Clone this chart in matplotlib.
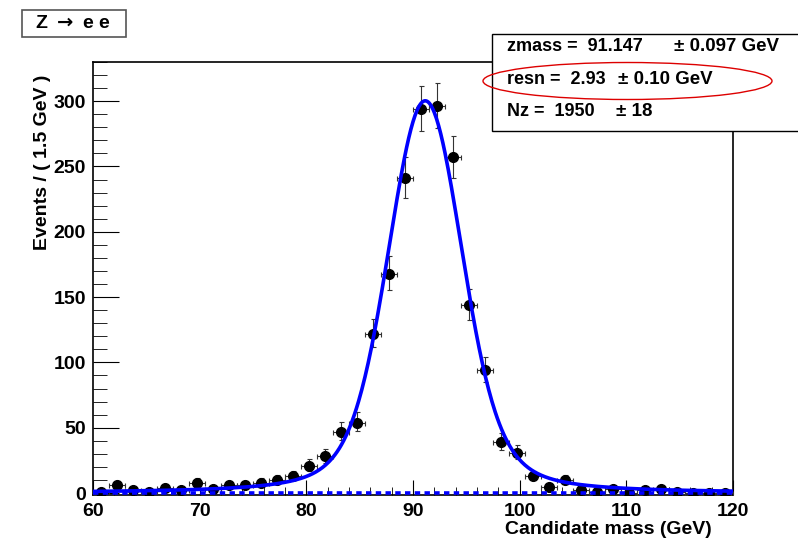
import numpy as np
import matplotlib
matplotlib.use('Agg')
import matplotlib.pyplot as plt
from matplotlib.patches import Rectangle, Ellipse

plt.rcParams['font.family'] = ['Liberation Sans', 'DejaVu Sans']
plt.rcParams['font.weight'] = 'bold'
plt.rcParams['mathtext.default'] = 'bf'

# binned data: 40 bins of 1.5 GeV between 60 and 120
bin_width = 1.5
bin_centers = 60.75 + bin_width * np.arange(40)
counts = np.array([1, 6, 2, 1, 4, 2, 8, 3, 6, 6,
                   8, 10, 13, 21, 28, 47, 54, 122, 168, 241,
                   294, 296, 257, 144, 94, 39, 31, 13, 5, 10,
                   2, 1, 3, 0, 2, 3, 1, 0, 0, 0])

# fit results shown in the box
zmass, zmass_err = 91.147, 0.097
resn, resn_err = 2.93, 0.10
nz, nz_err = 1950, 18
z_width = 2.4952  # PDG Z width (Breit-Wigner part of the Voigtian)

# approximate Poisson error bars
err_lo = np.sqrt(counts + 0.25) - 0.5
err_hi = np.sqrt(counts + 0.25) + 0.5

# Voigtian = Breit-Wigner (x) Gaussian, numerically convolved
x = np.linspace(60, 120, 601)
t = np.arange(20.0, 160.0, 0.02)
gamma = z_width / 2
bw = (gamma / np.pi) / ((t - zmass) ** 2 + gamma ** 2)
gauss = np.exp(-(x[:, None] - t[None, :]) ** 2 / (2 * resn ** 2)) / (resn * np.sqrt(2 * np.pi))
voigt = (gauss * bw[None, :]).sum(axis=1) * 0.02
norm = np.trapezoid(voigt, x)
curve = nz * bin_width * voigt / norm

fig = plt.figure(figsize=(7.98, 5.41), dpi=100)
ax = fig.add_axes([93 / 798, 1 - 495 / 541, 640 / 798, 433 / 541])

ax.errorbar(bin_centers, counts, yerr=[err_lo, err_hi], xerr=bin_width / 2,
            fmt='o', color='black', ecolor='#333333', elinewidth=0.8,
            capsize=1.8, capthick=0.8, markersize=7, zorder=3)
ax.plot(x, curve, color='#0000ff', lw=2.6, zorder=4)
ax.plot(x, np.zeros_like(x), color='#0000ff', lw=2.6, ls=(0, (1.5, 1.2)), zorder=4)

ax.set_xlim(60, 120)
ax.set_ylim(-1.5, 330)
ax.set_xticks(np.arange(60, 121, 10))
ax.set_xticks(np.arange(60, 121, 2), minor=True)
ax.set_yticks(np.arange(0, 301, 50))
ax.set_yticks(np.arange(0, 331, 10), minor=True)
ax.tick_params(which='both', direction='in', top=False, right=False, labelsize=14)
ax.tick_params(axis='x', which='major', length=11, pad=6)
ax.tick_params(axis='x', which='minor', length=6)
ax.tick_params(axis='y', which='major', length=19, pad=5)
ax.tick_params(axis='y', which='minor', length=10)
for lbl in ax.get_xticklabels() + ax.get_yticklabels():
    lbl.set_fontweight('bold')
for sp in ax.spines.values():
    sp.set_linewidth(1.2)

fig.text(712 / 798, 1 - 530 / 541, 'Candidate mass (GeV)', ha='right', va='center',
         fontsize=14, fontweight='bold')
fig.text(43 / 798, 1 - 75 / 541, 'Events / ( 1.5 GeV )', ha='center', va='top',
         rotation=90, fontsize=14, fontweight='bold')

# title box
fig.patches.append(Rectangle((22 / 798, 1 - 37 / 541), 104 / 798, 27 / 541,
                             transform=fig.transFigure, facecolor='white',
                             edgecolor='#555555', lw=1.2))
fig.text(72.5 / 798, 1 - 23.5 / 541, r'Z $\rightarrow$ e e', ha='center', va='center',
         fontsize=14, fontweight='bold')

# parameter box
fig.patches.append(Rectangle((492 / 798, 1 - 131 / 541), 320 / 798, 97 / 541,
                             transform=fig.transFigure, facecolor='white',
                             edgecolor='black', lw=1.0, zorder=5))
rows = [
    (46.5, 'zmass =  %.3f' % zmass, 674, '\u00b1 %.3f GeV' % zmass_err),
    (80, 'resn =  %.2f' % resn, 618, '\u00b1 %.2f GeV' % resn_err),
    (111.5, 'Nz =  %d' % nz, 616, '\u00b1 %d' % nz_err),
]
for ypix, left, xpm, right in rows:
    fig.text(507 / 798, 1 - ypix / 541, left, ha='left', va='center',
             fontsize=13, fontweight='bold', zorder=6)
    fig.text(xpm / 798, 1 - ypix / 541, right, ha='left', va='center',
             fontsize=13.5, fontweight='bold', zorder=6)

fig.patches.append(Ellipse((627.5 / 798, 1 - 81 / 541), 289 / 798, 37 / 541,
                           transform=fig.transFigure, facecolor='none',
                           edgecolor='#dd0000', lw=1.0, zorder=7))

plt.savefig('out.png', dpi=100)
